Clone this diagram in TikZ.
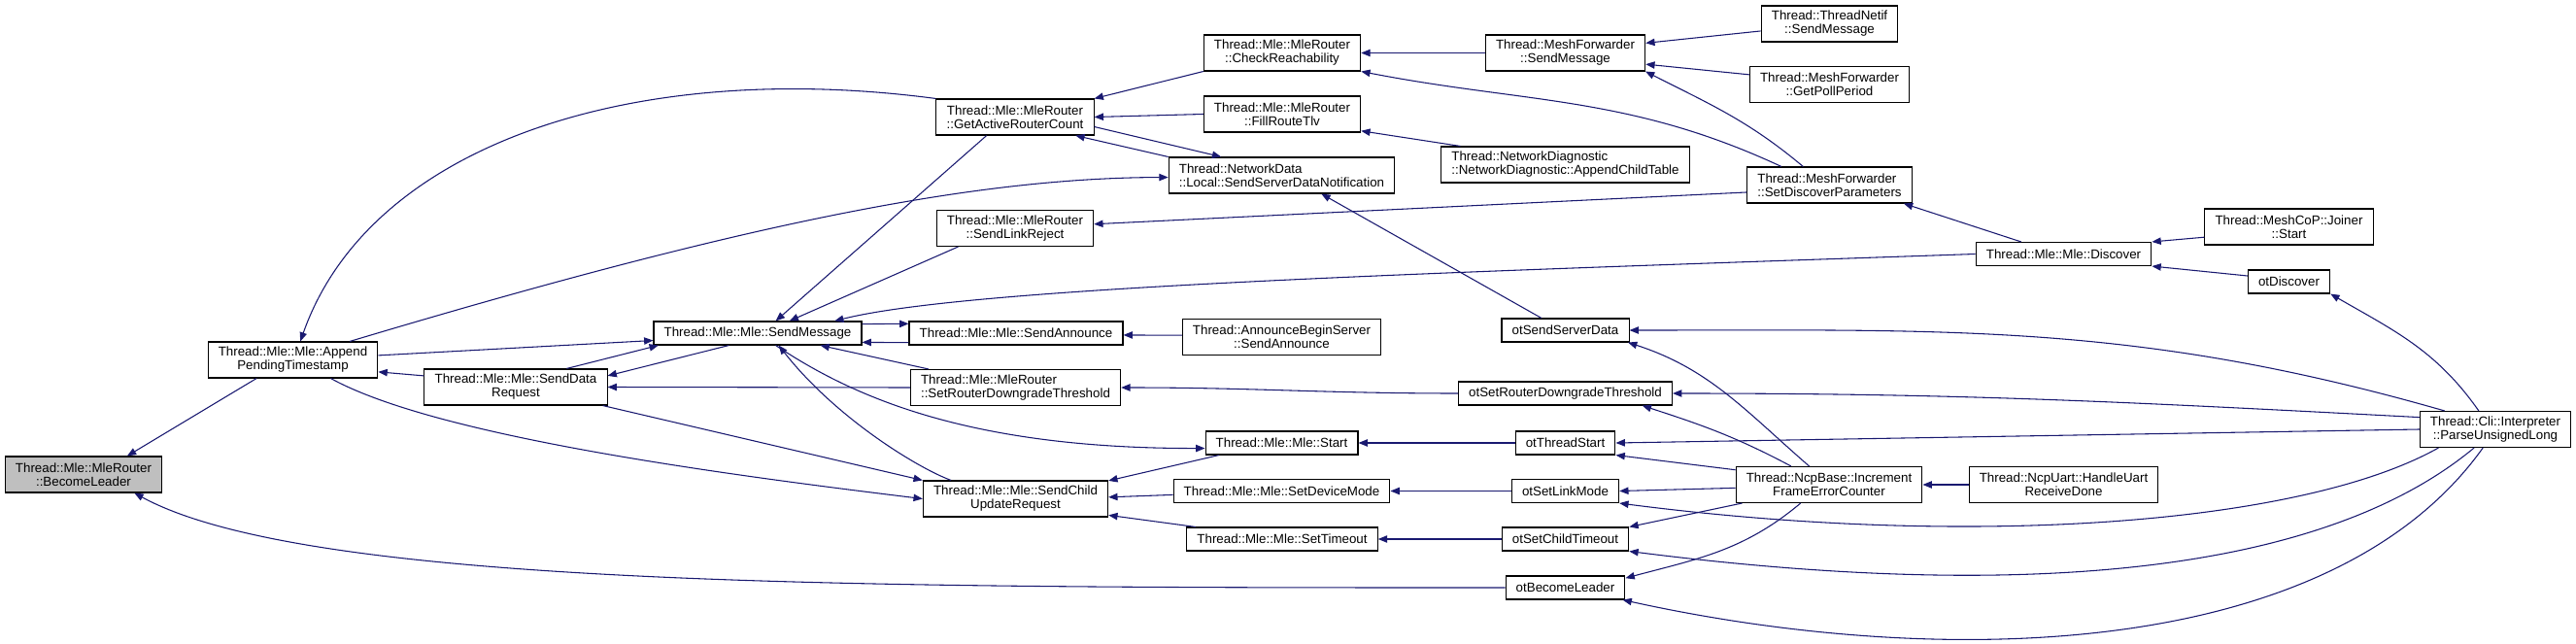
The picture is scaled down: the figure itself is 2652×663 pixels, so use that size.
\documentclass[tikz,border=0pt]{standalone}
\usepackage{fontspec}
\setmainfont{Liberation Sans}
\usetikzlibrary{arrows.meta}
\definecolor{edgeblue}{HTML}{191970}
\definecolor{leafgray}{HTML}{BFBFBF}
\begin{document}
\begin{tikzpicture}[x=0.75pt,y=-0.75pt,
  font=\fontsize{10}{10.5}\selectfont,
  >={Triangle[length=7pt,width=5.5pt]},
  fn/.style={draw,line width=0.8pt,inner xsep=8pt,inner ysep=2pt,minimum height=18pt,align=center},
  fnl/.style={fn,align=left},
  two/.style={minimum height=27.75pt},
  call/.style={->,draw=edgeblue,line width=0.8pt}]
\useasboundingbox (0,0) rectangle (2652,663);
\node[fn,two,fill=leafgray] (bl) at (86,488.5) {Thread::Mle::MleRouter\\::BecomeLeader};
\node[fn,two] (append) at (301.5,370.5) {Thread::Mle::Mle::Append\\PendingTimestamp};
\node[fn,two] (senddata) at (531,398.5) {Thread::Mle::Mle::SendData\\Request};
\node[fn] (sendmsg) at (780,343) {Thread::Mle::Mle::SendMessage};
\node[fn,two] (garc) at (1045,120.5) {Thread::Mle::MleRouter\\::GetActiveRouterCount};
\node[fn,two] (linkreject) at (1045,235) {Thread::Mle::MleRouter\\::SendLinkReject};
\node[fn] (announce) at (1046,343) {Thread::Mle::Mle::SendAnnounce};
\node[fnl,two] (mlesrdt) at (1045.5,399) {Thread::Mle::MleRouter\\::SetRouterDowngradeThreshold};
\node[fn,two] (childupd) at (1045.5,513.5) {Thread::Mle::Mle::SendChild\\UpdateRequest};
\node[fn,two] (checkreach) at (1320,54.5) {Thread::Mle::MleRouter\\::CheckReachability};
\node[fn,two] (fillroute) at (1320,117.5) {Thread::Mle::MleRouter\\::FillRouteTlv};
\node[fnl,two] (srvnotif) at (1319.5,180.5) {Thread::NetworkData\\::Local::SendServerDataNotification};
\node[fn,two] (annserver) at (1319.5,347) {Thread::AnnounceBeginServer\\::SendAnnounce};
\node[fn] (mlestart) at (1319.5,456) {Thread::Mle::Mle::Start};
\node[fn] (devmode) at (1319.5,505.5) {Thread::Mle::Mle::SetDeviceMode};
\node[fn] (settimeout) at (1320,555) {Thread::Mle::Mle::SetTimeout};
\node[fn,two] (mfsend) at (1611.5,54.5) {Thread::MeshForwarder\\::SendMessage};
\node[fnl,two] (childtable) at (1611.5,169.5) {Thread::NetworkDiagnostic\\::NetworkDiagnostic::AppendChildTable};
\node[fn] (otsrvdata) at (1611.5,340) {otSendServerData};
\node[fn] (otsrdt) at (1611.5,405) {otSetRouterDowngradeThreshold};
\node[fn] (otstart) at (1611.5,456) {otThreadStart};
\node[fn] (otlinkmode) at (1611.5,505.5) {otSetLinkMode};
\node[fn] (otchildto) at (1611.5,555) {otSetChildTimeout};
\node[fn] (otleader) at (1611.5,605) {otBecomeLeader};
\node[fn,two] (netifsend) at (1883.5,24.5) {Thread::ThreadNetif\\::SendMessage};
\node[fn,two] (pollperiod) at (1883.5,87) {Thread::MeshForwarder\\::GetPollPeriod};
\node[fnl,two] (discparams) at (1883.5,190.5) {Thread::MeshForwarder\\::SetDiscoverParameters};
\node[fn,two] (ncpinc) at (1883,499) {Thread::NcpBase::Increment\\FrameErrorCounter};
\node[fn] (discover) at (2124.5,261.5) {Thread::Mle::Mle::Discover};
\node[fn,two] (uartdone) at (2124.5,499) {Thread::NcpUart::HandleUart\\ReceiveDone};
\node[fn,two] (joiner) at (2356.5,233.5) {Thread::MeshCoP::Joiner\\::Start};
\node[fn] (otdiscover) at (2356.5,290) {otDiscover};
\node[fn,two] (parseul) at (2569,442) {Thread::Cli::Interpreter\\::ParseUnsignedLong};
\draw[call] (append.207) -- (bl.23);
\draw[call] (otleader.west) .. controls +(-650,0) and +(180,98) .. (bl.-20);
\draw[call] (garc.north west) .. controls (650,60) and (380,150) .. (append.68);
\draw[call] (senddata.173) -- (append.-8);
\draw[call] (append.18) .. controls (759,232) and (1000,183) .. (srvnotif.181);
\draw[call] (append.3) -- (sendmsg.184);
\draw[call] (append.-26) .. controls (450,450) and (750,489) .. (childupd.west);
\draw[call] (senddata.20) -- (sendmsg.187);
\draw[call] (sendmsg.203) -- (senddata.7);
\draw[call] (mlesrdt.west) -- (senddata.east);
\draw[call] (senddata.-12) -- (childupd.north west);
\draw[call] (checkreach.south west) -- (garc.north east);
\draw[call] (fillroute.west) -- (garc.east);
\draw[call] (srvnotif.north west) -- (garc.-17);
\draw[call] (garc.-7) -- (srvnotif.163);
\draw[call] (garc.213) -- (sendmsg.34);
\draw[call] (linkreject.198) -- (sendmsg.21);
\draw[call] (discover.west) .. controls (1500,280) and (1000,295) .. (sendmsg.9);
\draw[call] (announce.185) -- (sendmsg.-5);
\draw[call] (sendmsg.5) -- (announce.175);
\draw[call] (mlesrdt.168) -- (sendmsg.-11);
\draw[call] (childupd.164) .. controls (945,482) and (860,430) .. (sendmsg.-30);
\draw[call] (sendmsg.-34) .. controls (880,410) and (1000,462) .. (mlestart.184);
\draw[call] (annserver.179) -- (announce.-1);
\draw[call] (otsrdt.west) to[out=180,in=0] (mlesrdt.east);
\draw[call] (mlestart.191) -- (childupd.11);
\draw[call] (devmode.182) -- (childupd.1);
\draw[call] (settimeout.172) -- (childupd.-10);
\draw[call] (mfsend.west) -- (checkreach.east);
\draw[call] (discparams.159) to[out=155,in=-11] (checkreach.south east);
\draw[call] (childtable.170) -- (fillroute.-12);
\draw[call] (discparams.185) -- (linkreject.3);
\draw[call] (otsrvdata.153) -- (srvnotif.-25);
\draw[call] (otstart.west) -- (mlestart.east);
\draw[call] (otlinkmode.west) -- (devmode.east);
\draw[call] (otchildto.west) -- (settimeout.east);
\draw[call] (netifsend.186) -- (mfsend.7);
\draw[call] (pollperiod.173) -- (mfsend.-8);
\draw[call] (discparams.145) to[out=140,in=-27] (mfsend.-13);
\draw[call] (discover.164) -- (discparams.-14);
\draw[call] (parseul.160) to[out=164,in=0] (otsrvdata.east);
\draw[call] (ncpinc.137) to[out=139,in=-18] (otsrvdata.-11);
\draw[call] (parseul.171) to[out=177,in=0] (otsrdt.east);
\draw[call] (ncpinc.154) to[out=152,in=-18] (otsrdt.-9);
\draw[call] (parseul.west) -- (otstart.east);
\draw[call] (ncpinc.171) -- (otstart.south east);
\draw[call] (ncpinc.182) -- (otlinkmode.east);
\draw[call] (parseul.198) .. controls (2370,540) and (2030,565) .. (otlinkmode.south east);
\draw[call] (ncpinc.192) -- (otchildto.north east);
\draw[call] (parseul.221) .. controls (2380,600) and (2050,615) .. (otchildto.south east);
\draw[call] (ncpinc.213) to[out=220,in=15] (otleader.9);
\draw[call] (parseul.236) .. controls (2400,680) and (2000,690) .. (otleader.-12);
\draw[call] (uartdone.west) -- (ncpinc.east);
\draw[call] (joiner.187) -- (discover.north east);
\draw[call] (otdiscover.172) -- (discover.south east);
\draw[call] (parseul.132) to[out=125,in=-30] (otdiscover.south east);
\end{tikzpicture}
\end{document}
